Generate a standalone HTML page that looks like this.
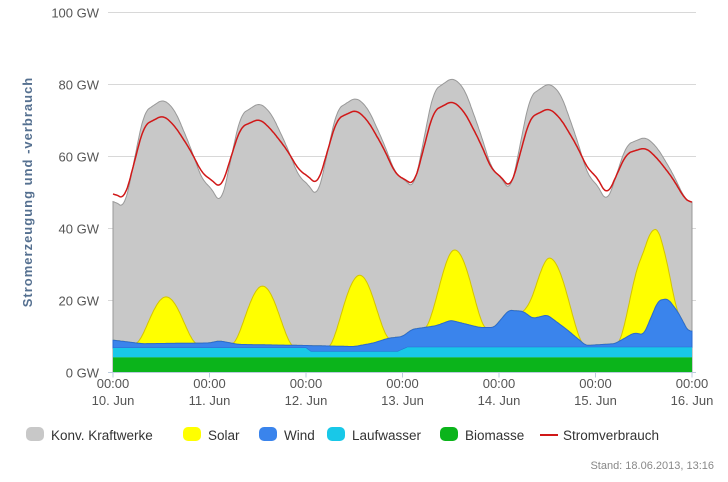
<!DOCTYPE html>
<html><head><meta charset="utf-8"><style>
body{margin:0;background:#fff;width:728px;height:477px;overflow:hidden;font-family:"Liberation Sans",sans-serif}
</style></head><body>
<svg id="s" width="728" height="477" xmlns="http://www.w3.org/2000/svg" font-family="Liberation Sans, sans-serif"></svg>
<script>
const X0=113,DX=96.5,Y0=372.5,K=3.6;
const X=t=>X0+t*DX, Y=v=>Y0-v*K;
function interp(pts,t){for(let i=0;i<pts.length-1;i++){const[a,va]=pts[i],[b,vb]=pts[i+1];if(t>=a&&t<=b){const u=(t-a)/(b-a);return va+(vb-va)*u;}}return pts[pts.length-1][1];}
function smooth(arr,w){return arr.map((v,i)=>{let s=0,n=0;for(let j=-w;j<=w;j++){const k=i+j;if(k>=0&&k<arr.length){s+=arr[k];n++;}}return s/n;});}
function daily(mid,tr,pk){const p=[];for(let d=0;d<6;d++){const a=mid[d],b=mid[d+1],m=tr[d],P=pk[d];
p.push([d,a],[d+0.12,m],[d+0.32,m+(P-m)*0.88],[d+0.52,P],[d+0.64,P-3],[d+0.8,P-(P-b)*0.55],[d+0.93,b+1]);}
p.push([6,mid[6]]);return p;}
const dem=daily([50,54,55,54,55,55,47],[48,51,52,52,51,49],[71.5,70.5,73,75.5,73.5,62.5]);
const grey=daily([48,52,53,54,55,53,47],[45.5,46.5,48.5,51,50,47],[76,75,76.5,82,80.5,65.5]);
const bio=[[0,4.2],[6,4.2]];
const lw=[[0,6.8],[2,6.8],[2.05,5.8],[2.95,5.8],[3.05,7],[6,7]];
const wind=[[0,9],[0.3,8],[1,8.2],[1.1,8.8],[1.3,7.8],[2,7.5],[2.5,7.2],[2.7,8.2],[2.85,9.5],[3,10],[3.1,12],[3.35,13],[3.5,14.5],[3.8,12.5],[3.95,12.5],[4.1,17.3],[4.25,17],[4.35,15],[4.5,16],[4.7,12],[4.9,7.5],[5.2,8],[5.4,11],[5.5,10.5],[5.65,20],[5.75,20.5],[5.85,17],[5.97,11],[6,12]];
const solPk=[21,24,27,34,31.5,37.5];
function solar(t){const d=Math.floor(t),f=t-d;if(d>5)return 0;if(f<0.24||f>0.86)return 0;const u=(f-0.24)/0.62;return Math.pow(Math.sin(Math.PI*u),1.5);}
const N=600,ts=[];for(let i=0;i<=N;i++)ts.push(i*6/N);
const B=ts.map(t=>interp(bio,t)),L=ts.map(t=>interp(lw,t));
const W=smooth(ts.map(t=>Math.max(interp(wind,t),interp(lw,t)+0.5)),3);
const S=ts.map((t,i)=>{const d=Math.min(5,Math.floor(t));const pk=solPk[d]-interp(wind,d+0.55);return W[i]+Math.max(0,pk)*solar(t);});
const G=smooth(ts.map(t=>interp(grey,t)),5),D=smooth(ts.map(t=>interp(dem,t)),5);
function area(top,bot,fill,stroke){let d='M'+ts.map((t,i)=>X(t).toFixed(1)+','+Y(top[i]).toFixed(1)).join('L');for(let i=N;i>=0;i--)d+='L'+X(ts[i]).toFixed(1)+','+Y(bot?bot[i]:0).toFixed(1);return `<path d="${d}Z" fill="${fill}" stroke="${stroke||'none'}" stroke-width="1"/>`;}
let h='';
for(let v=0;v<=100;v+=20){h+=`<line x1="108" x2="696" y1="${Y(v)}" y2="${Y(v)}" stroke="#d8d8d8"/>`;h+=`<text x="99" y="${Y(v)+5}" text-anchor="end" font-size="13" fill="#555">${v} GW</text>`;}
h+=area(G,null,'#c8c8c8','#999');
h+=area(S,W,'#ffff00','#d4c400');
h+=area(W,L,'#3a84ec','#2a6ad0');
h+=area(L,B,'#18c8e8');
h+=area(B,null,'#0bb41b');
h+=`<polyline points="${ts.map((t,i)=>X(t).toFixed(1)+','+Y(D[i]).toFixed(1)).join(' ')}" fill="none" stroke="#d01818" stroke-width="1.5"/>`;
h+=`<line x1="108" x2="696" y1="${Y0}" y2="${Y0}" stroke="#bcd"/>`;
const days=['10. Jun','11. Jun','12. Jun','13. Jun','14. Jun','15. Jun','16. Jun'];
days.forEach((d,i)=>{const x=X(i);h+=`<line x1="${x}" x2="${x}" y1="${Y0}" y2="${Y0+5}" stroke="#bcd"/>`;h+=`<text x="${x}" y="388" text-anchor="middle" font-size="13" fill="#555">00:00</text><text x="${x}" y="405" text-anchor="middle" font-size="13" fill="#555">${d}</text>`;});
h+=`<text transform="translate(32,192) rotate(-90)" text-anchor="middle" font-size="13" font-weight="bold" fill="#557090" letter-spacing="1">Stromerzeugung und -verbrauch</text>`;
const leg=[['Konv. Kraftwerke','#c8c8c8',26],['Solar','#ffff00',183],['Wind','#3a84ec',259],['Laufwasser','#18c8e8',327],['Biomasse','#0bb41b',440]];
leg.forEach(([n,c,x])=>{h+=`<rect x="${x}" y="427" width="18" height="14" rx="5" fill="${c}"/><text x="${x+25}" y="440" font-size="13.5" fill="#333">${n}</text>`;});
h+=`<line x1="540" x2="558" y1="435" y2="435" stroke="#d01818" stroke-width="2"/><text x="563" y="440" font-size="13.5" fill="#333">Stromverbrauch</text>`;
h+=`<text x="714" y="469" text-anchor="end" font-size="11" fill="#888">Stand: 18.06.2013, 13:16</text>`;
document.getElementById('s').innerHTML=h;
</script>
</body></html>
